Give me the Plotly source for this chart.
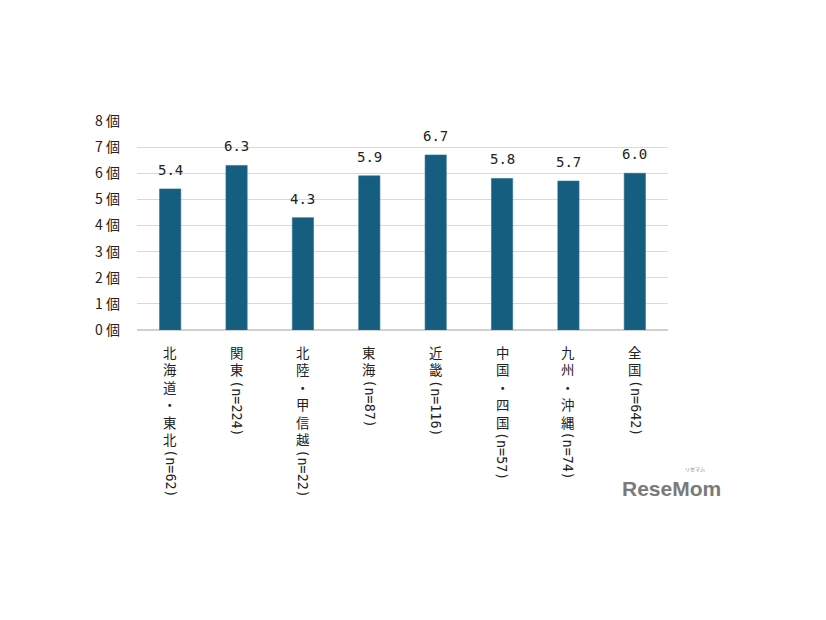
import plotly.graph_objects as go

regions = ["北海道・東北", "関東", "北陸・甲信越", "東海", "近畿", "中国・四国", "九州・沖縄", "全国"]
n_counts = [62, 224, 22, 87, 116, 57, 74, 642]
values = [5.4, 6.3, 4.3, 5.9, 6.7, 5.8, 5.7, 6.0]
y_ticks = [0, 1, 2, 3, 4, 5, 6, 7, 8]
y_tick_labels = [f"{v} 個" for v in y_ticks]

BAR = "#165E80"
CJK = "Noto Sans CJK JP"
MONO = "DejaVu Sans Mono"
LINE_H = 17.4

fig = go.Figure()
fig.add_trace(go.Bar(
    x=regions, y=values, marker=dict(color=BAR, line=dict(color="#2a6f8f", width=0.6)),
    width=0.32, hoverinfo="skip",
))

ann = []
for r, v in zip(regions, values):
    ann.append(dict(x=r, y=v, xref="x", yref="y", text=f"{v:.1f}", showarrow=False,
                    yanchor="bottom", yshift=9, font=dict(family=MONO, size=14, color="#222")))
for r, n in zip(regions, n_counts):
    ann.append(dict(x=r, y=0, xref="x", yref="paper", text="<br>".join(list(r)),
                    showarrow=False, yanchor="top", xanchor="center", yshift=-10,
                    font=dict(family=CJK, size=13.4, color="#222")))
    ann.append(dict(x=r, y=0, xref="x", yref="paper", text=f"(n={n})", textangle=90,
                    showarrow=False, yanchor="top", xanchor="center",
                    yshift=-(13 + LINE_H * len(r)),
                    font=dict(family=MONO, size=13.4, color="#222")))

ann.append(dict(x=1.006, y=-0.756, xref="paper", yref="paper", text="<b>ReseMom</b>",
                showarrow=False, xanchor="center", yanchor="middle",
                font=dict(family="Liberation Sans", size=21, color="#7a7a7a")))
ann.append(dict(x=1.05, y=-0.665, xref="paper", yref="paper", text="リセマム",
                showarrow=False, xanchor="center", yanchor="middle",
                font=dict(family=CJK, size=5, color="#7a7a7a")))

fig.update_layout(
    width=826, height=620,
    margin=dict(l=129, r=166, t=113, b=298),
    paper_bgcolor="white", plot_bgcolor="white",
    showlegend=False, bargap=0.68,
    annotations=ann,
    xaxis=dict(showticklabels=False, showgrid=False, zeroline=False, showline=False,
               ticks=""),
    yaxis=dict(range=[0, 8], tickvals=y_ticks, ticktext=y_tick_labels,
               showgrid=True, gridcolor="#d9d9d9", gridwidth=1, zeroline=True,
               zerolinecolor="#d0d0d0", zerolinewidth=1.5, showline=False,
               ticks="", ticklabelstandoff=16,
               tickfont=dict(family=CJK, size=14, color="#222")),
)

fig.write_html("out.html")
